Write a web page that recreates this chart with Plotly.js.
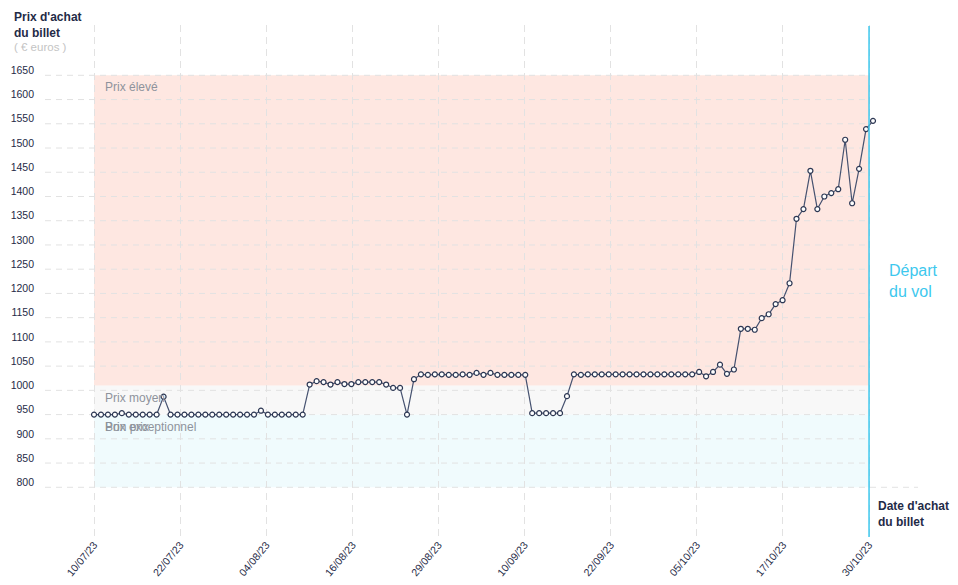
<!DOCTYPE html>
<html>
<head>
<meta charset="utf-8">
<script src="https://cdn.plot.ly/plotly-3.0.1.min.js"></script>
<style>
  html, body { margin: 0; padding: 0; background: #ffffff; }
  #chart { width: 958px; height: 585px; }
</style>
</head>
<body>
<div id="chart"></div>
<script>
// ---- Data ----
const startDate = '2023-07-10';           // first purchase day, one price per day
const prices = [
  950, 950, 950, 950, 953, 950, 950, 950, 950, 950,
  987, 950, 950, 950, 950, 950, 950, 950, 950, 950,
  950, 950, 950, 950, 958, 950, 950, 950, 950, 950,
  950, 1012, 1019, 1017, 1012, 1017, 1013, 1013, 1017, 1017,
  1017, 1017, 1012, 1005, 1005, 950, 1023, 1033, 1032, 1033,
  1033, 1032, 1032, 1033, 1032, 1036, 1032, 1036, 1032, 1032,
  1032, 1032, 1032, 953, 953, 953, 953, 953, 988, 1033,
  1032, 1033, 1033, 1033, 1033, 1033, 1033, 1033, 1033, 1033,
  1033, 1033, 1033, 1033, 1033, 1033, 1033, 1038, 1029, 1038,
  1053, 1034, 1043, 1127, 1127, 1125, 1149, 1157, 1178, 1186,
  1221, 1354, 1374, 1453, 1374, 1400, 1407, 1415, 1517, 1386,
  1457, 1539, 1556
];
const tickLabels = ['10/07/23', '22/07/23', '04/08/23', '16/08/23', '29/08/23',
                    '10/09/23', '22/09/23', '05/10/23', '17/10/23', '30/10/23'];
const yTicks = [800, 850, 900, 950, 1000, 1050, 1100, 1150, 1200, 1250, 1300,
                1350, 1400, 1450, 1500, 1550, 1600, 1650];
const bandNames = ['Prix exceptionnel', 'Bon prix', 'Prix moyen', 'Prix élevé'];
const bandLows  = [800, 950, 950, 1010];
const bandHighs = [950, 950, 1010, 1650];
const bandColors = ['rgba(240,251,253,1)', 'rgba(240,251,253,0)', '#f8f8f8', '#fee7e1'];

// ---- Helpers ----
const DAY = 86400000;
const START = Date.parse(startDate + 'T00:00:00Z');
function fmt(ms) {
  const d = new Date(ms);
  const p = n => String(n).padStart(2, '0');
  return d.getUTCFullYear() + '-' + p(d.getUTCMonth() + 1) + '-' + p(d.getUTCDate()) +
         ' ' + p(d.getUTCHours()) + ':' + p(d.getUTCMinutes()) + ':' + p(d.getUTCSeconds());
}
const dates = prices.map((_, i) => fmt(START + i * DAY));
const tickSpanDays = 111.43;                 // evenly spaced ticks across the period
const tickVals = tickLabels.map((_, k) => fmt(START + k * tickSpanDays / 9 * DAY));
const departure = tickVals[tickVals.length - 1];
const xStart = fmt(START - 7.05 * DAY);
const xEnd = fmt(START + 118.47 * DAY);

const W = 958, H = 585;
const M = { l: 45, r: 40, t: 25, b: 49 };
const PW = W - M.l - M.r, PH = H - M.t - M.b;
const px = x => (x - M.l) / PW;
const py = y => (H - M.b - y) / PH;

const navy = '#1f2b47';
const cyan = '#3dc8ee';
const gridCol = '#e2e2e2';
const FONT = 'Liberation Sans, Arial, sans-serif';

// ---- Shapes ----
const shapes = [];
bandNames.forEach((n, i) => {
  if (bandHighs[i] > bandLows[i]) {
    shapes.push({ type: 'rect', layer: 'below', xref: 'x', yref: 'y',
      x0: dates[0], x1: departure, y0: bandLows[i], y1: bandHighs[i],
      fillcolor: bandColors[i], line: { width: 0 } });
  }
});
yTicks.forEach(v => {
  shapes.push({ type: 'line', layer: 'between', xref: 'x', yref: 'y',
    x0: xStart, x1: v === yTicks[0] ? xEnd : departure, y0: v, y1: v,
    line: { color: gridCol, width: 1, dash: '6px,5px' } });
});
shapes.push({ type: 'line', layer: 'above', xref: 'x', yref: 'paper',
  x0: departure, x1: departure, y0: -0.002, y1: 0.998,
  line: { color: cyan, width: 1.5 } });

// ---- Annotations ----
const annotations = [
  { xref: 'paper', yref: 'paper', x: px(12), y: py(25), xanchor: 'left', yanchor: 'middle',
    text: "Prix d'achat<br>du billet", showarrow: false, align: 'left',
    font: { family: FONT, size: 12, color: navy, weight: 700 } },
  { xref: 'paper', yref: 'paper', x: px(12), y: py(47), xanchor: 'left', yanchor: 'middle',
    text: '( € euros )', showarrow: false, align: 'left',
    font: { family: FONT, size: 11.5, color: '#c4c4c4' } },
  { xref: 'paper', yref: 'paper', x: px(887), y: py(280.5), xanchor: 'left', yanchor: 'middle',
    text: 'Départ<br>du vol', showarrow: false, align: 'left',
    font: { family: FONT, size: 16, color: cyan } },
  { xref: 'paper', yref: 'paper', x: px(876), y: py(513.5), xanchor: 'left', yanchor: 'middle',
    text: "Date d'achat<br>du billet", showarrow: false, align: 'left',
    font: { family: FONT, size: 12, color: navy, weight: 700 } }
];
bandNames.forEach((n, i) => {
  annotations.push({ xref: 'x', yref: 'y', x: dates[0], y: bandHighs[i],
    xanchor: 'left', yanchor: 'middle', xshift: 9, yshift: -12,
    text: n, showarrow: false,
    font: { family: FONT, size: 12, color: '#8e939c' } });
});

// ---- Trace ----
const trace = {
  type: 'scatter', mode: 'lines+markers', x: dates, y: prices,
  line: { color: '#465270', width: 1.2 },
  marker: { symbol: 'circle', size: 5, color: '#ffffff', line: { color: '#2c3753', width: 1.2 } },
  cliponaxis: false, hoverinfo: 'x+y', showlegend: false
};

const layout = {
  width: W, height: H, margin: M,
  paper_bgcolor: '#ffffff', plot_bgcolor: 'rgba(0,0,0,0)',
  font: { family: FONT, color: navy },
  showlegend: false,
  xaxis: {
    type: 'date', range: [xStart, xEnd],
    tickmode: 'array', tickvals: tickVals, ticktext: tickLabels,
    tickangle: -50, ticks: '', showline: false, zeroline: false,
    showgrid: true, gridcolor: gridCol, gridwidth: 1, griddash: '7px,5px',
    tickfont: { family: FONT, size: 10.5, color: navy }, fixedrange: true
  },
  yaxis: {
    range: [699.5, 1753.8], tickmode: 'array', tickvals: yTicks,
    ticktext: yTicks.map(String), ticks: '', showline: false, zeroline: false,
    showgrid: false, ticklabelshift: -5, ticklabelstandoff: 10,
    tickfont: { family: FONT, size: 10.5, color: navy }, fixedrange: true
  },
  shapes: shapes,
  annotations: annotations
};

Plotly.newPlot('chart', [trace], layout, { displayModeBar: false, staticPlot: true });
</script>
</body>
</html>
